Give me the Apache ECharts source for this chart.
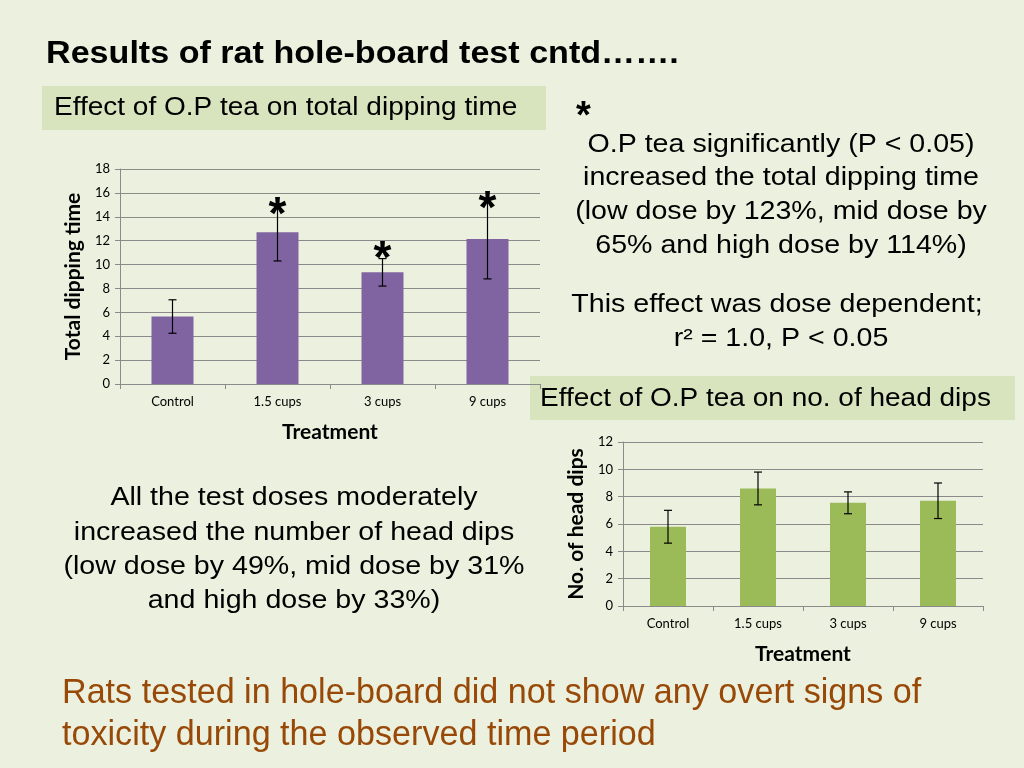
<!DOCTYPE html>
<html>
<head>
<meta charset="utf-8">
<script src="https://cdn.jsdelivr.net/npm/echarts@6/dist/echarts.min.js"></script>
<style>
html,body{margin:0;padding:0;background:#ebf1de;}
#c{width:1024px;height:768px;}
</style>
</head>
<body>
<div id="c"></div>
<script>
// ---- data ----
const categories = ['Control', '1.5 cups', '3 cups', '9 cups'];
const dipTimeMean = [5.65, 12.7, 9.35, 12.15];
const dipTimeErr = [1.4, 2.4, 1.15, 3.35];
const dipTimeStarAt = [null, 14.9, 11.2, 15.4];   // significance asterisks (value level)
const dipTimeTicks = [0, 2, 4, 6, 8, 10, 12, 14, 16, 18];
const headDipMean = [5.8, 8.6, 7.55, 7.7];
const headDipErr = [1.2, 1.2, 0.8, 1.3];
const headDipStarAt = [null, null, null, null];
const headDipTicks = [0, 2, 4, 6, 8, 10, 12];

const errData = (mean, err, star) => mean.map((m, i) => [i, m - err[i], m + err[i], star[i] == null ? -1 : star[i]]);

function renderErr(params, api) {
  const i = api.value(0);
  const lo = api.coord([i, api.value(1)]);
  const hi = api.coord([i, api.value(2)]);
  const cap = 4;
  const st = { stroke: '#000', lineWidth: 1.2 };
  const children = [
    { type: 'line', shape: { x1: lo[0], y1: lo[1], x2: hi[0], y2: hi[1] }, style: st },
    { type: 'line', shape: { x1: hi[0] - cap, y1: hi[1], x2: hi[0] + cap, y2: hi[1] }, style: st },
    { type: 'line', shape: { x1: lo[0] - cap, y1: lo[1], x2: lo[0] + cap, y2: lo[1] }, style: st }
  ];
  const s = api.value(3);
  if (s >= 0) {
    const p = api.coord([i, s]);
    children.push({ type: 'text', x: p[0], y: p[1] + 10, style: {
      text: '*', fill: '#000', font: 'bold 46px "Liberation Sans", Arial, sans-serif',
      textAlign: 'center', textVerticalAlign: 'middle' } });
  }
  return { type: 'group', children };
}

const axisFont = 'Lato, "Open Sans", sans-serif';
const gridLine = '#8a8a8a';

function xAxis(gridIndex) {
  return {
    type: 'category', gridIndex, data: categories,
    name: 'Treatment', nameLocation: 'middle', nameGap: 38,
    nameTextStyle: { fontFamily: axisFont, fontWeight: 'bold', fontSize: 21, color: '#000' },
    axisLine: { lineStyle: { color: gridLine, width: 1 } },
    axisTick: { show: true, length: 5, lineStyle: { color: gridLine } },
    axisLabel: { fontFamily: axisFont, fontSize: 13, color: '#000', margin: 11 }
  };
}
function yAxis(gridIndex, ticks, name) {
  return {
    type: 'value', gridIndex, min: ticks[0], max: ticks[ticks.length - 1],
    interval: ticks[1] - ticks[0],
    name, nameLocation: 'middle', nameGap: 36, nameRotate: 90,
    nameTextStyle: { fontFamily: axisFont, fontWeight: 'bold', fontSize: 21, color: '#000' },
    axisLine: { show: true, lineStyle: { color: gridLine, width: 1 } },
    axisTick: { show: true, length: 5, lineStyle: { color: gridLine } },
    splitLine: { lineStyle: { color: gridLine, width: 1 } },
    axisLabel: { fontFamily: axisFont, fontSize: 13, color: '#000', margin: 10 }
  };
}

const txt = (text, x, y, font, opts, sx) => ({
  type: 'text', x, y, scaleX: sx || 1,
  style: Object.assign({ text, font, fill: '#000', textAlign: 'left', textVerticalAlign: 'middle' }, opts || {})
});
const sans = '"Liberation Sans", Arial, sans-serif';
const C = { textAlign: 'center' };
const B = '26px ' + sans;
const BS = 1.1;

const chart = echarts.init(document.getElementById('c'), null, { renderer: 'canvas' });
chart.setOption({
  backgroundColor: '#ebf1de',
  animation: false,
  grid: [
    { left: 120, right: 484, top: 169, height: 215 },
    { left: 623, right: 41, top: 442, height: 164 }
  ],
  xAxis: [xAxis(0), xAxis(1)],
  yAxis: [yAxis(0, dipTimeTicks, 'Total dipping time'), yAxis(1, headDipTicks, 'No. of head dips')],
  series: [
    { type: 'bar', xAxisIndex: 0, yAxisIndex: 0, data: dipTimeMean, barWidth: '40%', itemStyle: { color: '#8064a2' } },
    { type: 'custom', xAxisIndex: 0, yAxisIndex: 0, data: errData(dipTimeMean, dipTimeErr, dipTimeStarAt), renderItem: renderErr, z: 5 },
    { type: 'bar', xAxisIndex: 1, yAxisIndex: 1, data: headDipMean, barWidth: '40%', itemStyle: { color: '#9bbb59' } },
    { type: 'custom', xAxisIndex: 1, yAxisIndex: 1, data: errData(headDipMean, headDipErr, headDipStarAt), renderItem: renderErr, z: 5 }
  ],
  graphic: [
    txt('Results of rat hole-board test cntd\u2026\u2026.', 46, 54, 'bold 31px ' + sans, null, 1.1),
    { type: 'rect', shape: { x: 42, y: 86, width: 504, height: 44 }, style: { fill: '#d7e4bd' } },
    txt('Effect of O.P tea on total dipping time', 54, 108, '25px ' + sans, null, 1.12),
    txt('*', 576, 118, 'bold 38px ' + sans),
    txt('O.P tea significantly (P < 0.05)', 781, 145, B, C, BS),
    txt('increased the total dipping time', 781, 178, B, C, BS),
    txt('(low dose by 123%, mid dose by', 781, 212, B, C, BS),
    txt('65% and high dose by 114%)', 781, 246, B, C, BS),
    txt('This effect was dose dependent;', 777, 305, B, C, BS),
    txt('r\u00b2 = 1.0, P < 0.05', 781, 339, B, C, BS),
    { type: 'rect', shape: { x: 530, y: 376, width: 485, height: 44 }, style: { fill: '#d7e4bd' } },
    txt('Effect of O.P tea on no. of head dips', 540, 399, '25px ' + sans, null, 1.12),
    txt('All the test doses moderately', 294, 498, B, C, BS),
    txt('increased the number of head dips', 294, 533, B, C, BS),
    txt('(low dose by 49%, mid dose by 31%', 294, 567, B, C, BS),
    txt('and high dose by 33%)', 294, 601, B, C, BS),
    txt('Rats tested in hole-board did not show any overt signs of', 62, 693, '35px ' + sans, { fill: '#984807' }, 0.975),
    txt('toxicity during the observed time period', 62, 735, '35px ' + sans, { fill: '#984807' }, 0.975)
  ]
});
</script>
</body>
</html>
